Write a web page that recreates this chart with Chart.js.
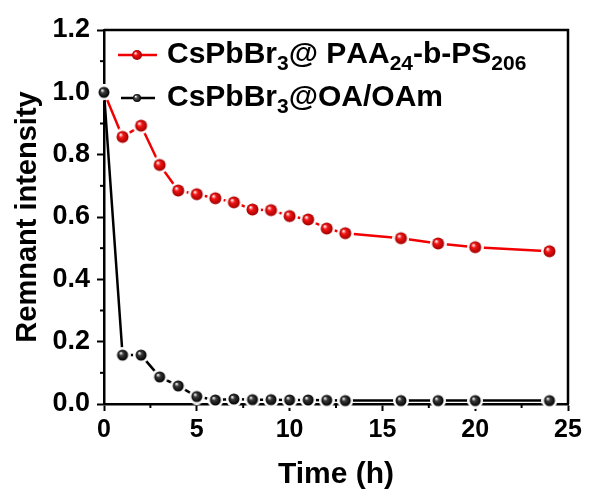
<!DOCTYPE html>
<html>
<head>
<meta charset="utf-8">
<script src="https://cdn.jsdelivr.net/npm/chart.js@4/dist/chart.umd.min.js"></script>
<style>
  html, body { margin: 0; padding: 0; background: #fff; }
  #wrap { width: 590px; height: 497px; }
</style>
</head>
<body>
<div id="wrap"><canvas id="stabilityChart" width="590" height="497"></canvas></div>
<script>
// Remnant PL intensity vs time
const times = [0, 1, 2, 3, 4, 5, 6, 7, 8, 9, 10, 11, 12, 13, 16, 18, 20, 24];
const paaValues = [1.0, 0.857, 0.893, 0.767, 0.685, 0.673, 0.66, 0.647, 0.624, 0.622, 0.603, 0.592, 0.563, 0.548, 0.532, 0.515, 0.503, 0.49];
const oaValues = [1.0, 0.157, 0.157, 0.087, 0.058, 0.024, 0.013, 0.016, 0.014, 0.014, 0.013, 0.013, 0.012, 0.011, 0.011, 0.011, 0.011, 0.011];
const seriesLabels = ["CsPbBr₃@ PAA₂₄-b-PS₂₀₆", "CsPbBr₃@OA/OAm"];
const xTicks = [0, 5, 10, 15, 20, 25];
const yTicks = [0, 0.2, 0.4, 0.6, 0.8, 1.0, 1.2];

const FONT = "'Liberation Sans', Arial, sans-serif";

// shaded ball marker with a white gap ring (Origin style)
function ball(r, base, dark, ring) {
  const c = document.createElement("canvas");
  const s = Math.ceil(2 * (r + ring));
  c.width = s; c.height = s;
  const g = c.getContext("2d");
  const m = s / 2;
  if (ring > 0) {
    g.fillStyle = "#fff";
    g.beginPath(); g.arc(m, m, r + ring, 0, Math.PI * 2); g.fill();
  }
  const grad = g.createRadialGradient(m - r * 0.35, m - r * 0.4, r * 0.05, m, m, r);
  grad.addColorStop(0, "#ffffff");
  grad.addColorStop(0.35, base);
  grad.addColorStop(1, dark);
  g.fillStyle = grad;
  g.beginPath(); g.arc(m, m, r, 0, Math.PI * 2); g.fill();
  return c;
}

const redBall = ball(6, "#f51515", "#a00000", 2.5);
const blackBall = ball(5.5, "#3a3a3a", "#000000", 2.5);
const redBallSmall = ball(5, "#f51515", "#a00000", 0);
const blackBallSmall = ball(4, "#555555", "#000000", 0);

const subMap = { "₀": "0", "₁": "1", "₂": "2", "₃": "3", "₄": "4", "₅": "5", "₆": "6", "₇": "7", "₈": "8", "₉": "9" };

function drawRich(ctx, text, x, y, size) {
  let cx = x;
  for (const ch of text) {
    const sub = subMap[ch];
    if (sub) {
      ctx.font = "bold " + Math.round(size * 0.7) + "px " + FONT;
      ctx.fillText(sub, cx, y + size * 0.3);
      cx += ctx.measureText(sub).width;
    } else {
      ctx.font = "bold " + size + "px " + FONT;
      ctx.fillText(ch, cx, y);
      cx += ctx.measureText(ch).width;
    }
  }
}

const framePlugin = {
  id: "frame",
  afterDatasetsDraw(chart) {
    const { ctx, chartArea: a, scales } = chart;
    ctx.save();
    ctx.strokeStyle = "#000";
    ctx.lineWidth = 2.5;
    ctx.beginPath();
    ctx.moveTo(a.left, a.top); ctx.lineTo(a.right, a.top); ctx.lineTo(a.right, a.bottom);
    ctx.stroke();
    // minor ticks
    ctx.lineWidth = 2;
    for (let v = 2.5; v < 25; v += 5) {
      const px = scales.x.getPixelForValue(v);
      ctx.beginPath(); ctx.moveTo(px, a.bottom); ctx.lineTo(px, a.bottom + 4); ctx.stroke();
    }
    for (let v = 0.1; v < 1.2; v += 0.2) {
      const py = scales.y.getPixelForValue(v);
      ctx.beginPath(); ctx.moveTo(a.left, py); ctx.lineTo(a.left - 4, py); ctx.stroke();
    }
    ctx.restore();
  },
  afterDraw(chart) {
    const ctx = chart.ctx;
    ctx.save();
    ctx.textBaseline = "middle";
    ctx.textAlign = "left";
    const rows = [
      { y: 55, color: "#f00000", img: redBallSmall, x1: 118, x2: 157 },
      { y: 98, color: "#000000", img: blackBallSmall, x1: 121, x2: 155 }
    ];
    rows.forEach((r, i) => {
      ctx.strokeStyle = r.color;
      ctx.lineWidth = 2.5;
      ctx.beginPath(); ctx.moveTo(r.x1, r.y); ctx.lineTo(r.x2, r.y); ctx.stroke();
      ctx.drawImage(r.img, 137 - r.img.width / 2, r.y - r.img.height / 2);
      ctx.fillStyle = "#000";
      drawRich(ctx, seriesLabels[i], 167, r.y, 30);
    });
    ctx.restore();
  }
};

const ctx = document.getElementById("stabilityChart").getContext("2d");
new Chart(ctx, {
  type: "line",
  data: {
    datasets: [
      {
        label: seriesLabels[1],
        data: times.map((t, i) => ({ x: t, y: oaValues[i] })),
        borderColor: "#000",
        borderWidth: 2.5,
        pointStyle: blackBall,
        tension: 0,
        clip: false,
        order: 0
      },
      {
        label: seriesLabels[0],
        data: times.map((t, i) => ({ x: t, y: paaValues[i] })),
        borderColor: "#f00000",
        borderWidth: 2.5,
        pointStyle: redBall,
        tension: 0,
        clip: false,
        order: 1
      }
    ]
  },
  options: {
    responsive: false,
    animation: false,
    layout: { padding: { left: 0, right: 22, top: 30, bottom: 0 } },
    plugins: { legend: { display: false }, tooltip: { enabled: false } },
    scales: {
      x: {
        type: "linear",
        min: 0,
        max: 25,
        afterBuildTicks: (s) => { s.ticks = xTicks.map((v) => ({ value: v })); },
        afterFit: (s) => { s.height = 93; },
        grid: { drawOnChartArea: false, tickLength: 7, tickWidth: 2, tickColor: "#000" },
        border: { color: "#000", width: 2.5 },
        ticks: { color: "#000", padding: 4, maxRotation: 0, font: { family: FONT, size: 25, weight: "bold" } },
        title: { display: true, text: "Time (h)", color: "#000", padding: { top: 2 }, font: { family: FONT, size: 30, weight: "bold" } }
      },
      y: {
        min: 0,
        max: 1.2,
        afterBuildTicks: (s) => { s.ticks = yTicks.map((v) => ({ value: v })); },
        afterFit: (s) => { s.width = 104; },
        grid: { drawOnChartArea: false, tickLength: 7, tickWidth: 2, tickColor: "#000" },
        border: { color: "#000", width: 2.5 },
        ticks: { color: "#000", padding: 7, callback: (v) => v.toFixed(1), font: { family: FONT, size: 27, weight: "bold" } },
        title: { display: true, text: "Remnant intensity", color: "#000", padding: { top: 11 }, font: { family: FONT, size: 29, weight: "bold" } }
      }
    }
  },
  plugins: [framePlugin]
});
</script>
</body>
</html>
